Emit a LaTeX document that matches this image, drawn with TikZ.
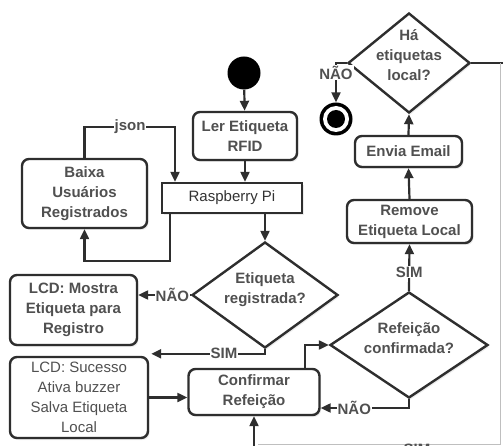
\documentclass[tikz,border=0pt]{standalone}
\usepackage{fontspec}
\setmainfont{Liberation Sans}
\usetikzlibrary{arrows.meta,shapes.geometric,shadows}
\definecolor{edgec}{HTML}{2E2E2E}
\definecolor{txtc}{HTML}{505050}
\tikzset{
  shadowed/.style={drop shadow={shadow xshift=1.5pt,shadow yshift=-2pt,opacity=0.15}},
  box/.style={draw=edgec, line width=2.4pt, rounded corners=7pt, fill=white, text=txtc,
    font=\bfseries\fontsize{15}{20}\selectfont, align=center, inner sep=0pt, shadowed},
  plainbox/.style={draw=edgec, line width=2.4pt, fill=white, text=black!80,
    font=\fontsize{15}{20}\selectfont, align=center, inner sep=0pt, shadowed},
  dia/.style={shape=diamond, draw=edgec, line width=2.4pt, fill=white, inner sep=0pt, shadowed},
  dtext/.style={text=txtc, font=\bfseries\fontsize{15}{20}\selectfont, align=center, inner sep=0pt},
  lbl/.style={fill=white, text=txtc, font=\bfseries\fontsize{15}{18}\selectfont, inner sep=1pt},
  conn/.style={draw=edgec, line width=2.2pt},
  arr/.style={conn, -{Triangle[length=10pt,width=9pt]}},
}
\begin{document}
\begin{tikzpicture}[x=1pt,y=-1pt]
\path[use as bounding box] (0,0) rectangle (503,446);
\clip (0,0) rectangle (503,446);
% nodes
\node[circle, fill=black, minimum size=33pt, inner sep=0pt] (start) at (244,73) {};
\node[box, minimum width=104pt, minimum height=48pt] (ler) at (245,136) {Ler Etiqueta\\RFID};
\node[plainbox, minimum width=140pt, minimum height=30pt] (rpi) at (232,198) {Raspberry Pi};
\node[box, minimum width=125pt, minimum height=69pt] (baixa) at (84.5,193.5) {Baixa\\Usuários\\Registrados};
\node[dia, minimum width=146pt, minimum height=106pt] (etq) at (265,295) {};
\node[dtext] (etqt) at (265,290) {Etiqueta\\registrada?};
\node[box, minimum width=127pt, minimum height=70pt] (mostra) at (73.5,310) {LCD: Mostra\\Etiqueta para\\Registro};
\node[box, font=\mdseries\fontsize{15}{20}\selectfont, minimum width=138pt, minimum height=81pt] (suc) at (79,397.5) {LCD: Sucesso\\Ativa buzzer\\Salva Etiqueta\\Local};
\node[box, minimum width=131pt, minimum height=46pt] (conf) at (254,392) {Confirmar\\Refeição};
\node[dia, minimum width=158pt, minimum height=106pt] (ref) at (409,345) {};
\node[dtext] (reft) at (409,338) {Refeição\\confirmada?};
\node[box, minimum width=125pt, minimum height=43pt] (rem) at (409.5,221.5) {Remove\\Etiqueta Local};
\node[box, minimum width=107pt, minimum height=31pt] (env) at (408.5,151.5) {Envia Email};
\node[dia, minimum width=122pt, minimum height=100pt] (ha) at (409,63) {};
\node[dtext] (hat) at (409,55) {Há\\etiquetas\\local?};
\node[circle, fill=black, minimum size=33pt, inner sep=0pt] (endc) at (336,119) {};
\node[circle, fill=white, minimum size=26pt, inner sep=0pt] (endw) at (endc) {};
\node[circle, fill=black, minimum size=18pt, inner sep=0pt] (endi) at (endc) {};
\coordinate (hax) at (506,63);
\coordinate (bot) at (254,448);
% connectors
\draw[arr] (start) -- (ler);
\draw[arr] (ler.south) -- (ler.south |- rpi.north);
\draw[arr] (rpi.south -| etq.north) -- (etq.north);
\draw[arr] (baixa.north) |- (130,127) node[lbl] (jsonl) {json} -| ([xshift=-57pt]rpi.north);
\draw[arr] ([xshift=-62pt]rpi.south) -- ++(0,47) -| (baixa.south);
\draw[arr] (etq.west) -- (etq.west -| mostra.east) node[lbl, pos=0.35] (nao1) {NÃO};
\draw[arr] (etq.south) |- ([xshift=2pt,yshift=2pt]suc.north east) node[lbl, pos=0.68] (sim1) {SIM};
\draw[arr] (suc.east) -- (suc.east -| conf.west);
\draw[arr] ([xshift=51pt]conf.north) |- (ref.west);
\draw[arr] (ref.south) |- (conf.east |- 0,408) node[lbl, pos=0.81] (nao2) {NÃO};
\draw[arr] (ref.north) -- (rem.south) node[lbl, pos=0.4] (sim2) {SIM};
\draw[arr] (rem.north) -- (env.south);
\draw[arr] (env.north) -- (ha.south);
\draw[arr] (ha.west) -| (endc.north) node[lbl, pos=0.62] (nao3) {NÃO};
\draw[conn] (ha.east) -- (hax);
\draw[black!25, line width=0.8pt] (500,63) -- (500,444) -- (258,444);
\draw[arr] (bot) -- (conf.south);
\node[lbl, fill=none] (sim3) at (417,449) {SIM};
\end{tikzpicture}
\end{document}
